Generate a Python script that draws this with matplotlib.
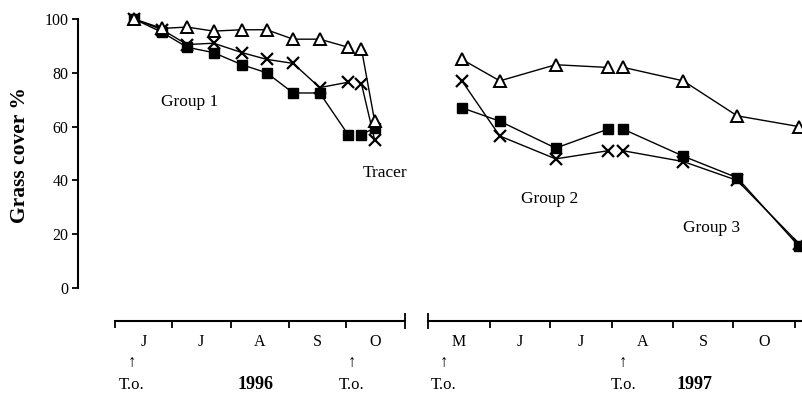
"""Grass cover % over the 1996 and 1997 grazing seasons"""
import matplotlib
matplotlib.use('Agg')
import matplotlib.pyplot as plt
import matplotlib.dates as mdates
import matplotlib.transforms as mtrans

plt.rcParams.update({
    'font.family': ['Liberation Serif', 'DejaVu Serif'],
    'font.size': 11,
    'axes.linewidth': 1.5,
})

# --- data (sample dates and grass cover %) ---
dates_g1 = ['1996-06-11', '1996-06-26', '1996-07-09', '1996-07-23', '1996-08-07',
            '1996-08-20', '1996-09-03', '1996-09-17', '1996-10-02']
tri_g1 = [100, 96.5, 97, 95.5, 96, 96, 92.5, 92.5, 89.5]
cross_g1 = [100, 96, 90.5, 91, 87.5, 85, 83.5, 74.5, 76.5]
sq_g1 = [100, 95, 89.5, 87.5, 83, 80, 72.5, 72.5, 57]

dates_tr = ['1996-10-09', '1996-10-16']
tri_tr = [89, 62]
cross_tr = [76, 55]
sq_tr = [57, 59.5]

dates_g2 = ['1997-05-18', '1997-06-06', '1997-07-04', '1997-07-30']
tri_g2 = [85, 77, 83, 82]
cross_g2 = [77, 56.5, 48, 51]
sq_g2 = [67, 62, 52, 59]

dates_g3 = ['1997-08-07', '1997-09-06', '1997-10-03', '1997-11-03']
tri_g3 = [82, 77, 64, 60]
cross_g3 = [51, 47, 40, 16.5]
sq_g3 = [59, 49, 41, 15.5]

turnout_1996 = ['1996-06-10', '1996-10-04']
turnout_1997 = ['1997-05-09', '1997-08-07']

months_1996 = ['J', 'J', 'A', 'S', 'O']
month_starts_1996 = ['1996-06-01', '1996-07-01', '1996-08-01', '1996-09-01',
                     '1996-10-01', '1996-11-01']
months_1997 = ['M', 'J', 'J', 'A', 'S', 'O']
month_starts_1997 = ['1997-05-01', '1997-06-01', '1997-07-01', '1997-08-01',
                     '1997-09-01', '1997-10-01', '1997-11-01']

W, H = 803, 394


def fx(px):
    return px / W


def fy(py):
    return 1 - py / H


def dn(lst):
    return [mdates.datestr2num(s) for s in lst]


fig = plt.figure(figsize=(W / 100, H / 100), dpi=100)
ax1 = fig.add_axes([fx(78), fy(288), fx(405) - fx(78), fy(19) - fy(288)])
ax2 = fig.add_axes([fx(428), fy(288), fx(803) - fx(428), fy(19) - fy(288)], sharey=ax1)

ms1 = dn(month_starts_1996)
ms2 = dn(month_starts_1997)
dpp1 = (ms1[-1] - ms1[0]) / (405 - 115)
dpp2 = (ms2[-1] - ms2[0]) / (795 - 428)
ax1.set_xlim(ms1[0] - (115 - 78) * dpp1, ms1[-1])
ax2.set_xlim(ms2[0], ms2[0] + (803 - 428) * dpp2)
ax1.set_ylim(0, 100)

tri_kw = dict(color='black', lw=1.0, marker='^', ms=8, mfc='white', mec='black', mew=1.4,
              clip_on=False)
cross_kw = dict(color='black', lw=1.0, marker='x', ms=8.5, mew=1.6, clip_on=False)
sq_kw = dict(color='black', lw=1.0, marker='s', ms=6.5, mfc='black', mec='black',
             clip_on=False)

for ax, dates, tri, cross, sq in [
        (ax1, dates_g1, tri_g1, cross_g1, sq_g1),
        (ax1, dates_tr, tri_tr, cross_tr, sq_tr),
        (ax2, dates_g2, tri_g2, cross_g2, sq_g2),
        (ax2, dates_g3, tri_g3, cross_g3, sq_g3)]:
    x = dn(dates)
    ax.plot(x, sq, **sq_kw)
    ax.plot(x, cross, **cross_kw)
    ax.plot(x, tri, **tri_kw)

# axes styling
for ax in (ax1, ax2):
    ax.spines['top'].set_visible(False)
    ax.spines['right'].set_visible(False)
    ax.spines['bottom'].set_position(('outward', 24))
    ax.spines['bottom'].set_linewidth(1.5)
    ax.tick_params(axis='x', which='major', direction='out', length=5, width=1.3,
                   labelbottom=False)
    ax.tick_params(axis='x', which='minor', direction='inout', length=11, width=1.3,
                   labelbottom=False)
ax2.spines['left'].set_visible(False)
ax1.spines['bottom'].set_bounds(ms1[0], ms1[-1])

ax1.set_xticks(ms1[:-1])
ax1.set_xticks([ms1[-1]], minor=True)
ax2.set_xticks(ms2[1:])
ax2.set_xticks([ms2[0]], minor=True)

ax1.set_yticks(range(0, 101, 20))
ax1.tick_params(axis='y', direction='out', length=4.5, width=1.3, pad=2.5, labelsize=11.5)
ax2.tick_params(axis='y', left=False, labelleft=False)

# month labels, turn-out arrows
for ax, starts, labels, turnout in [(ax1, ms1, months_1996, turnout_1996),
                                    (ax2, ms2, months_1997, turnout_1997)]:
    tr = mtrans.blended_transform_factory(ax.transData, fig.transFigure)
    for i, lab in enumerate(labels):
        ax.text((starts[i] + starts[i + 1]) / 2, fy(342), lab, transform=tr,
                ha='center', va='center', fontsize=11.5)
    for t in dn(turnout):
        ax.text(t, fy(363), '\u2191', transform=tr, ha='center', va='center', fontsize=12)
        ax.text(t, fy(389), 'T.o.', transform=tr, ha='center', va='baseline', fontsize=12)

fig.text(fx(256), fy(389), '1996', ha='center', va='baseline', fontsize=13, fontweight='bold')
fig.text(fx(695), fy(389), '1997', ha='center', va='baseline', fontsize=13, fontweight='bold')

fig.text(fx(190), fy(106), 'Group 1', ha='center', va='baseline', fontsize=12.5)
fig.text(fx(385), fy(177), 'Tracer', ha='center', va='baseline', fontsize=12.5)
fig.text(fx(550), fy(203), 'Group 2', ha='center', va='baseline', fontsize=12.5)
fig.text(fx(712), fy(232), 'Group 3', ha='center', va='baseline', fontsize=12.5)

fig.text(fx(20), fy(155), 'Grass cover %', rotation=90, ha='center', va='center',
         fontsize=15.5, fontweight='bold')

fig.savefig('out.png', dpi=100)
plt.close(fig)
